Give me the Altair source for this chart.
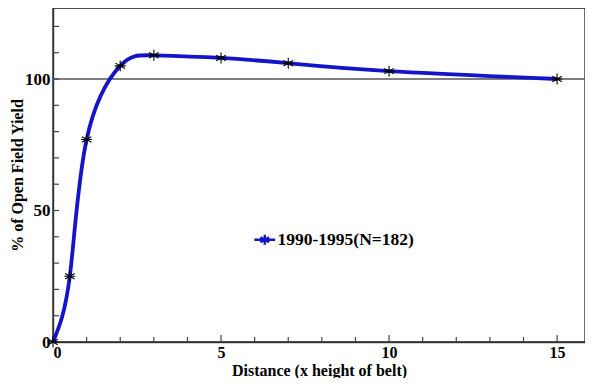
import altair as alt
import pandas as pd

# Data
distance = [0, 0.5, 1, 2, 3, 5, 7, 10, 15]
yield_pct = [0, 25, 77, 105, 109, 108, 106, 103, 100]
series_name = "1990-1995(N=182)"

x_major = [0, 5, 10, 15]
x_minor = [1, 2, 3, 4, 6, 7, 8, 9, 11, 12, 13, 14]
y_major = [0, 50, 100]
y_minor = [10, 20, 30, 40, 60, 70, 80, 90, 110, 120]
ref_level = [100]

W, H = 532, 334
FONT = "Liberation Serif"
BLUE = "#1414c8"
STAR = "M0,-1L0,1M-0.87,-0.5L0.87,0.5M-0.87,0.5L0.87,-0.5M-1,0L1,0"
LEG_SYM = "M-1.7,0L1.7,0M0,-0.8L0,0.8M-0.7,-0.4L0.7,0.4M-0.7,0.4L0.7,-0.4"

df = pd.DataFrame({"x": distance, "y": yield_pct, "series": series_name})

xs = alt.Scale(domain=[0, 15.83], nice=False, zero=False)
ys = alt.Scale(domain=[0, 127], nice=False)

x_axis = alt.Axis(values=x_major, ticks=False, grid=False, format="d",
                  title="Distance (x height of belt)", labelFont=FONT,
                  labelFontWeight="bold", labelFontSize=16, labelPadding=2,
                  labelColor="black", titleFont=FONT, titleFontWeight="bold",
                  titleFontSize=16, titlePadding=2, titleColor="black",
                  domainColor="#555", domainWidth=1.5)
y_axis = alt.Axis(values=y_major, ticks=False, grid=False, format="d",
                  title="% of Open Field Yield", labelFont=FONT,
                  labelFontWeight="bold", labelFontSize=17, labelPadding=3,
                  labelColor="black", titleFont=FONT, titleFontWeight="bold",
                  titleFontSize=16, titleX=-28, titleBaseline="bottom",
                  titleColor="black", domainColor="#555", domainWidth=1.5)

X = alt.X("x:Q", scale=xs, axis=x_axis)
Y = alt.Y("y:Q", scale=ys, axis=y_axis)

frame = alt.Chart(pd.DataFrame({"k": [0]})).mark_rect(
    fill=None, stroke="#222", strokeWidth=1.3).encode(
    x=alt.value(0), x2=alt.value(W), y=alt.value(0), y2=alt.value(H))

ref = alt.Chart(pd.DataFrame({"y": ref_level})).mark_rule(
    color="#555", strokeWidth=1.5).encode(y=Y)

line = alt.Chart(df).mark_line(interpolate="natural", strokeWidth=3.8).encode(
    x=X, y=Y,
    color=alt.Color("series:N", scale=alt.Scale(range=[BLUE]),
                    legend=alt.Legend(orient="none", legendX=203, legendY=223,
                                      title=None, symbolType=LEG_SYM,
                                      symbolSize=150, symbolStrokeWidth=2.4,
                                      labelFont=FONT, labelFontWeight="bold",
                                      labelFontSize=17.5, labelColor="black",
                                      labelOffset=4)))

pts = alt.Chart(df).mark_point(shape=STAR, size=120, color="black",
                               strokeWidth=1.1, filled=False, opacity=1).encode(x=X, y=Y)

xt_major = alt.Chart(pd.DataFrame({"x": x_major})).mark_rule(
    color="#444", strokeWidth=1.2).encode(x=X, y=alt.value(H), y2=alt.value(H - 7))
xt_minor = alt.Chart(pd.DataFrame({"x": x_minor})).mark_rule(
    color="#444", strokeWidth=1.2).encode(x=X, y=alt.value(H), y2=alt.value(H - 5))
yt_minor = alt.Chart(pd.DataFrame({"y": y_minor + y_major})).mark_rule(
    color="#444", strokeWidth=1.2).encode(y=Y, x=alt.value(0), x2=alt.value(6))

chart = alt.layer(frame, ref, xt_major, xt_minor, yt_minor, line, pts).properties(
    width=W, height=H,
    padding={"left": 45, "top": 0, "right": 0, "bottom": 36},
    autosize=alt.AutoSizeParams(type="none"),
).configure_view(stroke="#222", strokeWidth=1.2).configure(background="white")

chart.save("out.html", embed_options={"renderer": "svg", "actions": False})
